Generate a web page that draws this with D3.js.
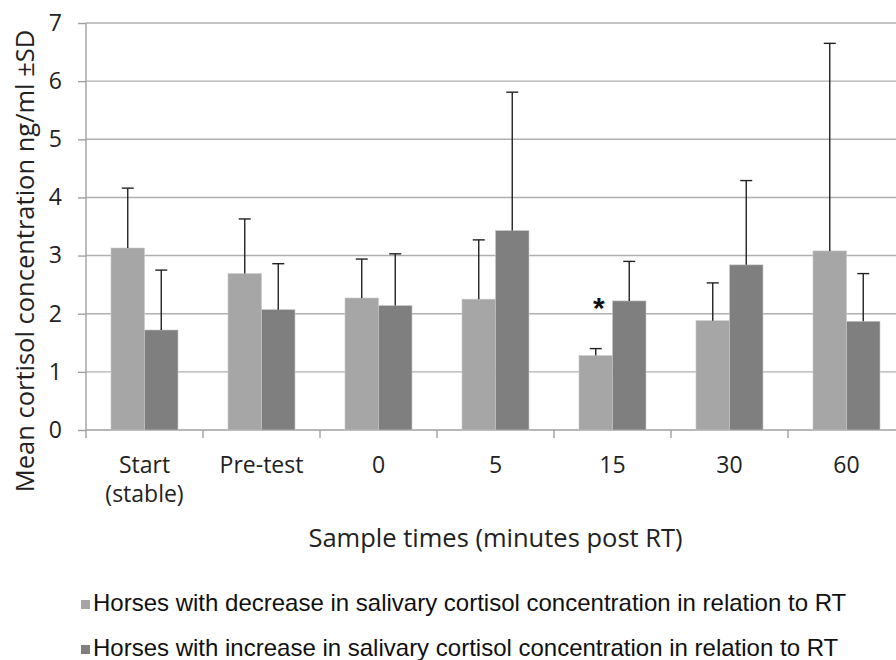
<!DOCTYPE html>
<html>
<head>
<meta charset="utf-8">
<script src="https://cdn.jsdelivr.net/npm/d3@7"></script>
<style>
  body { margin: 0; background: #fff; }
  svg { display: block; }
</style>
</head>
<body>
<div id="chart"></div>
<script>
// sample times on the x axis
const categories = ["Start\n(stable)", "Pre-test", "0", "5", "15", "30", "60"];
const seriesNames = [
    "Horses with decrease in salivary cortisol concentration in relation to RT",
    "Horses with increase in salivary cortisol concentration in relation to RT"
];
// means (ng/ml)
const decreaseMeans = [3.13, 2.69, 2.27, 2.25, 1.28, 1.88, 3.08];
const increaseMeans = [1.72, 2.07, 2.14, 3.43, 2.22, 2.84, 1.87];
// mean + SD (top of the error bars)
const decreaseUpper = [4.16, 3.63, 2.94, 3.27, 1.40, 2.53, 6.65];
const increaseUpper = [2.75, 2.86, 3.03, 5.81, 2.90, 4.29, 2.69];
const yTicks = [0, 1, 2, 3, 4, 5, 6, 7];
// significance mark, on the decrease series
const starCategory = "15";

const width = 896, height = 660;
const margin = {top: 23, left: 86, bottom: 230};
const plotRight = 905;   // plot runs a little past the picture edge

const svg = d3.select("#chart").append("svg")
    .attr("width", width)
    .attr("height", height);

const x = d3.scaleBand()
    .domain(categories)
    .range([margin.left, plotRight]);

const sub = d3.scaleBand()
    .domain([0, 1])
    .range([25, 92]);

const y = d3.scaleLinear()
    .domain([0, 7])
    .range([height - margin.bottom, margin.top]);

const colors = ["#a6a6a6", "#7f7f7f"];
const font = "'Open Sans', sans-serif";

// gridlines
svg.append("g")
    .selectAll("line")
    .data(yTicks.filter(d => d > 0))
    .join("line")
    .attr("x1", margin.left)
    .attr("x2", plotRight)
    .attr("y1", d => y(d))
    .attr("y2", d => y(d))
    .attr("stroke", "#b0b0b0")
    .attr("stroke-width", 1.4);

// y axis
const yAxisGroup = svg.append("g")
    .attr("transform", `translate(${margin.left},0)`)
    .call(d3.axisLeft(y).tickValues(yTicks).tickFormat(d3.format("d")).tickSize(8).tickPadding(16));
yAxisGroup.selectAll("line, path").attr("stroke", "#a0a0a0").attr("stroke-width", 1.4);
yAxisGroup.select(".domain").attr("d", `M0,${y(7)}V${y(0)}`);
yAxisGroup.selectAll("text")
    .style("font-family", font)
    .style("font-size", "23px")
    .attr("fill", "#222");

// x axis line and boundary ticks
svg.append("line")
    .attr("x1", margin.left)
    .attr("x2", plotRight)
    .attr("y1", y(0))
    .attr("y2", y(0))
    .attr("stroke", "#a0a0a0")
    .attr("stroke-width", 1.4);

svg.append("g")
    .selectAll("line")
    .data(categories)
    .join("line")
    .attr("x1", d => x(d))
    .attr("x2", d => x(d))
    .attr("y1", y(0))
    .attr("y2", y(0) + 8)
    .attr("stroke", "#a0a0a0")
    .attr("stroke-width", 1.4);

// x tick labels
const xLabels = svg.append("g")
    .selectAll("text")
    .data(categories)
    .join("text")
    .attr("x", d => x(d) + x.bandwidth() / 2)
    .attr("y", y(0) + 43)
    .attr("text-anchor", "middle")
    .style("font-family", font)
    .style("font-size", "23px")
    .attr("fill", "#222");
xLabels.selectAll("tspan")
    .data(d => d.split("\n"))
    .join("tspan")
    .attr("x", function () { return d3.select(this.parentNode).attr("x"); })
    .attr("dy", (d, i) => i === 0 ? 0 : 29)
    .text(d => d);

// bars
const rows = categories.map((c, i) => ({
    cat: c,
    vals: [decreaseMeans[i], increaseMeans[i]],
    ups: [decreaseUpper[i], increaseUpper[i]]
}));

const groups = svg.append("g")
    .selectAll("g")
    .data(rows)
    .join("g")
    .attr("transform", d => `translate(${x(d.cat)},0)`);

groups.selectAll("rect")
    .data(d => d.vals)
    .join("rect")
    .attr("x", (d, i) => sub(i))
    .attr("width", sub.bandwidth())
    .attr("y", d => y(d))
    .attr("height", d => y(0) - y(d))
    .attr("fill", (d, i) => colors[i])
    .attr("stroke", "#c8c8c8")
    .attr("stroke-width", 0.6);

// upper error bars
const errs = groups.selectAll("g.err")
    .data(d => d.vals.map((v, i) => ({v, up: d.ups[i], i})))
    .join("g")
    .attr("class", "err");

errs.append("line")
    .attr("x1", d => sub(d.i) + sub.bandwidth() / 2)
    .attr("x2", d => sub(d.i) + sub.bandwidth() / 2)
    .attr("y1", d => y(d.v))
    .attr("y2", d => y(d.up))
    .attr("stroke", "#222")
    .attr("stroke-width", 1.4);

errs.append("line")
    .attr("x1", d => sub(d.i) + sub.bandwidth() / 2 - 6)
    .attr("x2", d => sub(d.i) + sub.bandwidth() / 2 + 6)
    .attr("y1", d => y(d.up))
    .attr("y2", d => y(d.up))
    .attr("stroke", "#222")
    .attr("stroke-width", 1.4);

// significance star
const si = categories.indexOf(starCategory);
svg.append("text")
    .attr("x", x(starCategory) + sub(0) + sub.bandwidth() / 2 + 3)
    .attr("y", y(decreaseUpper[si]) - 31)
    .attr("text-anchor", "middle")
    .style("font-family", "'Liberation Sans', Arial, sans-serif")
    .style("font-size", "30px")
    .style("font-weight", "bold")
    .attr("fill", "#111")
    .text("*");

// axis titles
svg.append("text")
    .attr("transform", "rotate(-90)")
    .attr("x", -261)
    .attr("y", 34)
    .attr("text-anchor", "middle")
    .style("font-family", font)
    .style("font-size", "25.5px")
    .attr("fill", "#222")
    .text("Mean cortisol concentration ng/ml ±SD");

svg.append("text")
    .attr("x", (margin.left + plotRight) / 2)
    .attr("y", 547)
    .attr("text-anchor", "middle")
    .style("font-family", font)
    .style("font-size", "25.5px")
    .attr("fill", "#222")
    .text("Sample times (minutes post RT)");

// legend
const legend = svg.append("g")
    .selectAll("g")
    .data(seriesNames)
    .join("g")
    .attr("transform", (d, i) => `translate(81,${611 + i * 45})`);

legend.append("rect")
    .attr("x", 0)
    .attr("y", -11)
    .attr("width", 9)
    .attr("height", 9)
    .attr("fill", (d, i) => colors[i]);

legend.append("text")
    .attr("x", 12)
    .attr("y", 0)
    .style("font-family", "'Liberation Sans', Arial, sans-serif")
    .style("font-size", "24px")
    .attr("fill", "#111")
    .text(d => d);
</script>
</body>
</html>
